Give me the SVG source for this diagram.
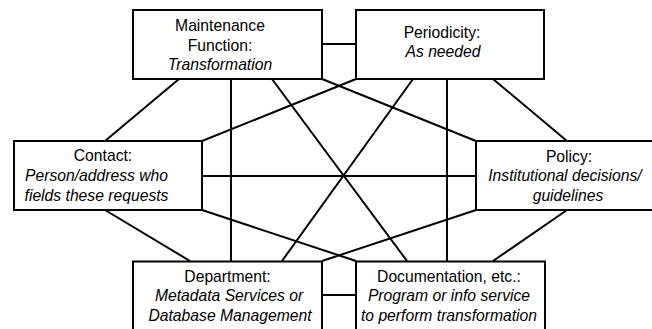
<svg xmlns="http://www.w3.org/2000/svg" width="652" height="329" viewBox="0 0 652 329">
<style>
.box{fill:#fff;stroke:#000;stroke-width:2}
.ln{stroke:#000;stroke-width:2;fill:none}
text{font-family:"Liberation Sans",Arial,sans-serif;font-size:15.7px;fill:#000;text-anchor:middle}
.it{font-style:italic}
</style>
<rect width="652" height="329" fill="#fff"/>
<g id="connectors" class="ln">
<line x1="322" y1="44" x2="356" y2="44"/>
<line x1="322" y1="295" x2="356" y2="295"/>
<line x1="202" y1="176" x2="476" y2="176"/>
<line x1="231" y1="79" x2="231" y2="261"/>
<line x1="447" y1="79" x2="447" y2="261"/>
<line x1="179" y1="79" x2="105" y2="141"/>
<line x1="493" y1="79" x2="567" y2="141"/>
<line x1="105" y1="210" x2="190" y2="261"/>
<line x1="567" y1="210" x2="493" y2="261"/>
<line x1="272" y1="79" x2="407" y2="261"/>
<line x1="413" y1="79" x2="282" y2="261"/>
<line x1="202" y1="141" x2="356" y2="79"/>
<line x1="476" y1="141" x2="322" y2="79"/>
<line x1="202" y1="210" x2="356" y2="261"/>
<line x1="476" y1="210" x2="322" y2="261"/>
</g>
<g id="maintenance">
<rect class="box" x="133" y="10" width="189" height="69"/>
<text x="220" y="31">Maintenance</text>
<text x="220" y="50.5">Function:</text>
<text class="it" x="220" y="70">Transformation</text>
</g>
<g id="periodicity">
<rect class="box" x="356" y="10" width="188" height="69"/>
<text x="442" y="37.5">Periodicity:</text>
<text class="it" x="443" y="57">As needed</text>
</g>
<g id="contact">
<rect class="box" x="14" y="141" width="188" height="69"/>
<text x="103" y="161">Contact:</text>
<text class="it" x="96.5" y="181">Person/address who</text>
<text class="it" x="96.5" y="201">fields these requests</text>
</g>
<g id="policy">
<rect class="box" x="476" y="141" width="192" height="69"/>
<text x="569" y="161.5">Policy:</text>
<text class="it" x="565" y="181">Institutional decisions/</text>
<text class="it" x="568" y="201">guidelines</text>
</g>
<g id="department">
<rect class="box" x="133" y="261.5" width="189" height="72"/>
<text x="227.5" y="281.5">Department:</text>
<text class="it" x="229" y="301">Metadata Services or</text>
<text class="it" x="230" y="320.5">Database Management</text>
</g>
<g id="documentation">
<rect class="box" x="356" y="261.5" width="189" height="72"/>
<text x="449" y="282">Documentation, etc.:</text>
<text class="it" x="449" y="301">Program or info service</text>
<text class="it" x="449" y="320.5">to perform transformation</text>
</g>
</svg>
